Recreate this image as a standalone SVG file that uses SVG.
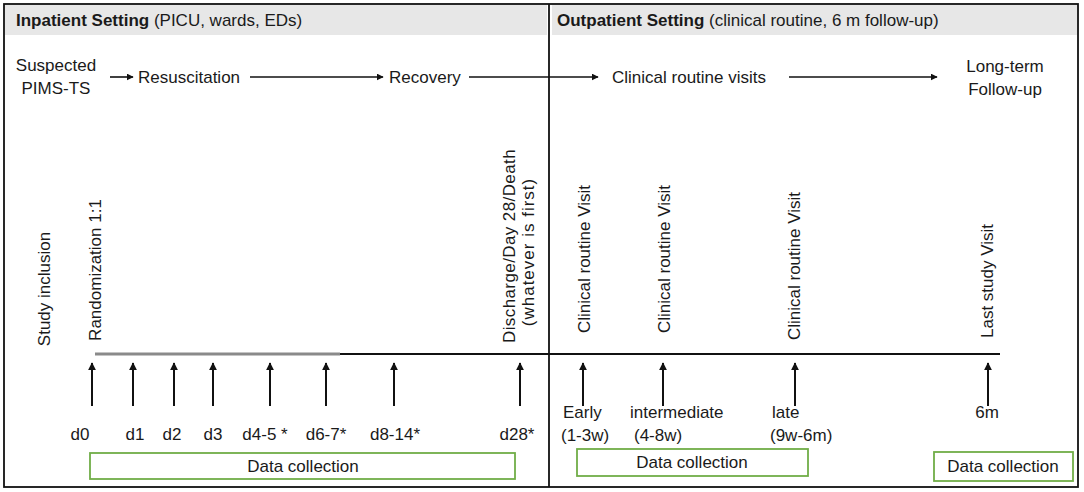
<svg xmlns="http://www.w3.org/2000/svg" width="1084" height="492" viewBox="0 0 1084 492">
<style>
text{font-family:"Liberation Sans",Arial,sans-serif;fill:#1a1a1a}
.h{font-size:17px}
.b{font-weight:bold}
.t{font-size:17px}
.c{text-anchor:middle}
.ln{stroke:#111;stroke-width:1.6;fill:none}
.up{stroke:#111;stroke-width:2;fill:none}
.box{fill:none;stroke:#70ad47;stroke-width:1.8}
</style>
<defs>
<marker id="ah" viewBox="0 0 10 10" refX="9" refY="5" markerWidth="7" markerHeight="7" markerUnits="userSpaceOnUse" orient="auto">
<path d="M0,0 L10,5 L0,10 z" fill="#111"/>
</marker>
<marker id="au" viewBox="0 0 10 10" refX="9" refY="5" markerWidth="8" markerHeight="8" markerUnits="userSpaceOnUse" orient="auto">
<path d="M0,0 L10,5 L0,10 z" fill="#111"/>
</marker>
</defs>
<rect x="0" y="0" width="1084" height="492" fill="#fff"/>
<g id="frame">
<rect x="4" y="4" width="1074" height="483" fill="none" stroke="#111" stroke-width="1.8"/>
<rect x="5" y="5" width="542" height="30" fill="#e7e7e7"/>
<rect x="552" y="5" width="525" height="30" fill="#e7e7e7"/>
<line x1="549" y1="4" x2="549" y2="487" stroke="#111" stroke-width="1.8"/>
</g>
<g id="headers">
<text class="h" x="16" y="26"><tspan class="b">Inpatient Setting</tspan> (PICU, wards, EDs)</text>
<text class="h" x="557" y="26"><tspan class="b">Outpatient Setting</tspan> (clinical routine, 6 m follow-up)</text>
</g>
<g id="phases">
<g id="n-suspected"><text class="t c" x="56" y="71">Suspected</text><text class="t c" x="56" y="94">PIMS-TS</text></g>
<g id="n-resus"><text class="t" x="138" y="83">Resuscitation</text></g>
<g id="n-recovery"><text class="t" x="389" y="83">Recovery</text></g>
<g id="n-clinical"><text class="t" x="612" y="83">Clinical routine visits</text></g>
<g id="n-longterm"><text class="t c" x="1005" y="72">Long-term</text><text class="t c" x="1005" y="95">Follow-up</text></g>
</g>
<g id="connectors">
<line class="ln" x1="110" y1="77" x2="133" y2="77" marker-end="url(#ah)"/>
<line class="ln" x1="250" y1="77" x2="383" y2="77" marker-end="url(#ah)"/>
<line class="ln" x1="469" y1="77" x2="598" y2="77" marker-end="url(#ah)"/>
<line class="ln" x1="789" y1="77" x2="937" y2="77" marker-end="url(#ah)"/>
<line x1="95" y1="354" x2="340" y2="354" stroke="#8a8a8a" stroke-width="3"/>
<line x1="340" y1="354" x2="1000" y2="354" stroke="#111" stroke-width="1.8"/>
<line class="up" x1="92" y1="406" x2="92" y2="363" marker-end="url(#au)"/>
<line class="up" x1="133" y1="406" x2="133" y2="363" marker-end="url(#au)"/>
<line class="up" x1="174" y1="406" x2="174" y2="363" marker-end="url(#au)"/>
<line class="up" x1="213" y1="406" x2="213" y2="363" marker-end="url(#au)"/>
<line class="up" x1="270" y1="406" x2="270" y2="363" marker-end="url(#au)"/>
<line class="up" x1="326" y1="406" x2="326" y2="363" marker-end="url(#au)"/>
<line class="up" x1="394" y1="406" x2="394" y2="363" marker-end="url(#au)"/>
<line class="up" x1="520" y1="406" x2="520" y2="363" marker-end="url(#au)"/>
<line class="up" x1="583" y1="406" x2="583" y2="363" marker-end="url(#au)"/>
<line class="up" x1="663" y1="406" x2="663" y2="363" marker-end="url(#au)"/>
<line class="up" x1="795" y1="406" x2="795" y2="363" marker-end="url(#au)"/>
<line class="up" x1="988" y1="406" x2="988" y2="363" marker-end="url(#au)"/>
</g>
<g id="events">
<text class="t c" transform="translate(50,289) rotate(-90)">Study inclusion</text>
<text class="t c" transform="translate(101,270) rotate(-90)">Randomization 1:1</text>
<text class="t c" transform="translate(515,246) rotate(-90)" letter-spacing="0.4">Discharge/Day 28/Death</text>
<text class="t c" transform="translate(534,252) rotate(-90)" letter-spacing="1">(whatever is first)</text>
<text class="t c" transform="translate(590,259) rotate(-90)">Clinical routine Visit</text>
<text class="t c" transform="translate(670,259) rotate(-90)">Clinical routine Visit</text>
<text class="t c" transform="translate(800,266) rotate(-90)">Clinical routine Visit</text>
<text class="t c" transform="translate(993,281) rotate(-90)">Last study Visit</text>
</g>
<g id="timepoints">
<text class="t c" x="80" y="440">d0</text>
<text class="t c" x="135" y="440">d1</text>
<text class="t c" x="172" y="440">d2</text>
<text class="t c" x="213" y="440">d3</text>
<text class="t c" x="265" y="440">d4-5 *</text>
<text class="t c" x="326" y="440">d6-7*</text>
<text class="t c" x="395" y="440">d8-14*</text>
<text class="t c" x="517" y="440">d28*</text>
<text class="t" x="563" y="418">Early</text>
<text class="t" x="561" y="441">(1-3w)</text>
<text class="t" x="630" y="418">intermediate</text>
<text class="t" x="634" y="441">(4-8w)</text>
<text class="t" x="772" y="418">late</text>
<text class="t" x="770" y="441">(9w-6m)</text>
<text class="t c" x="987" y="418">6m</text>
</g>
<g id="dc-inpatient"><rect class="box" x="90" y="453" width="425" height="26"/><text class="t c" x="303" y="472">Data collection</text></g>
<g id="dc-outpatient"><rect class="box" x="577" y="449" width="231" height="27"/><text class="t c" x="692" y="468">Data collection</text></g>
<g id="dc-final"><rect class="box" x="934" y="452" width="139" height="29"/><text class="t c" x="1003" y="472">Data collection</text></g>
</svg>
